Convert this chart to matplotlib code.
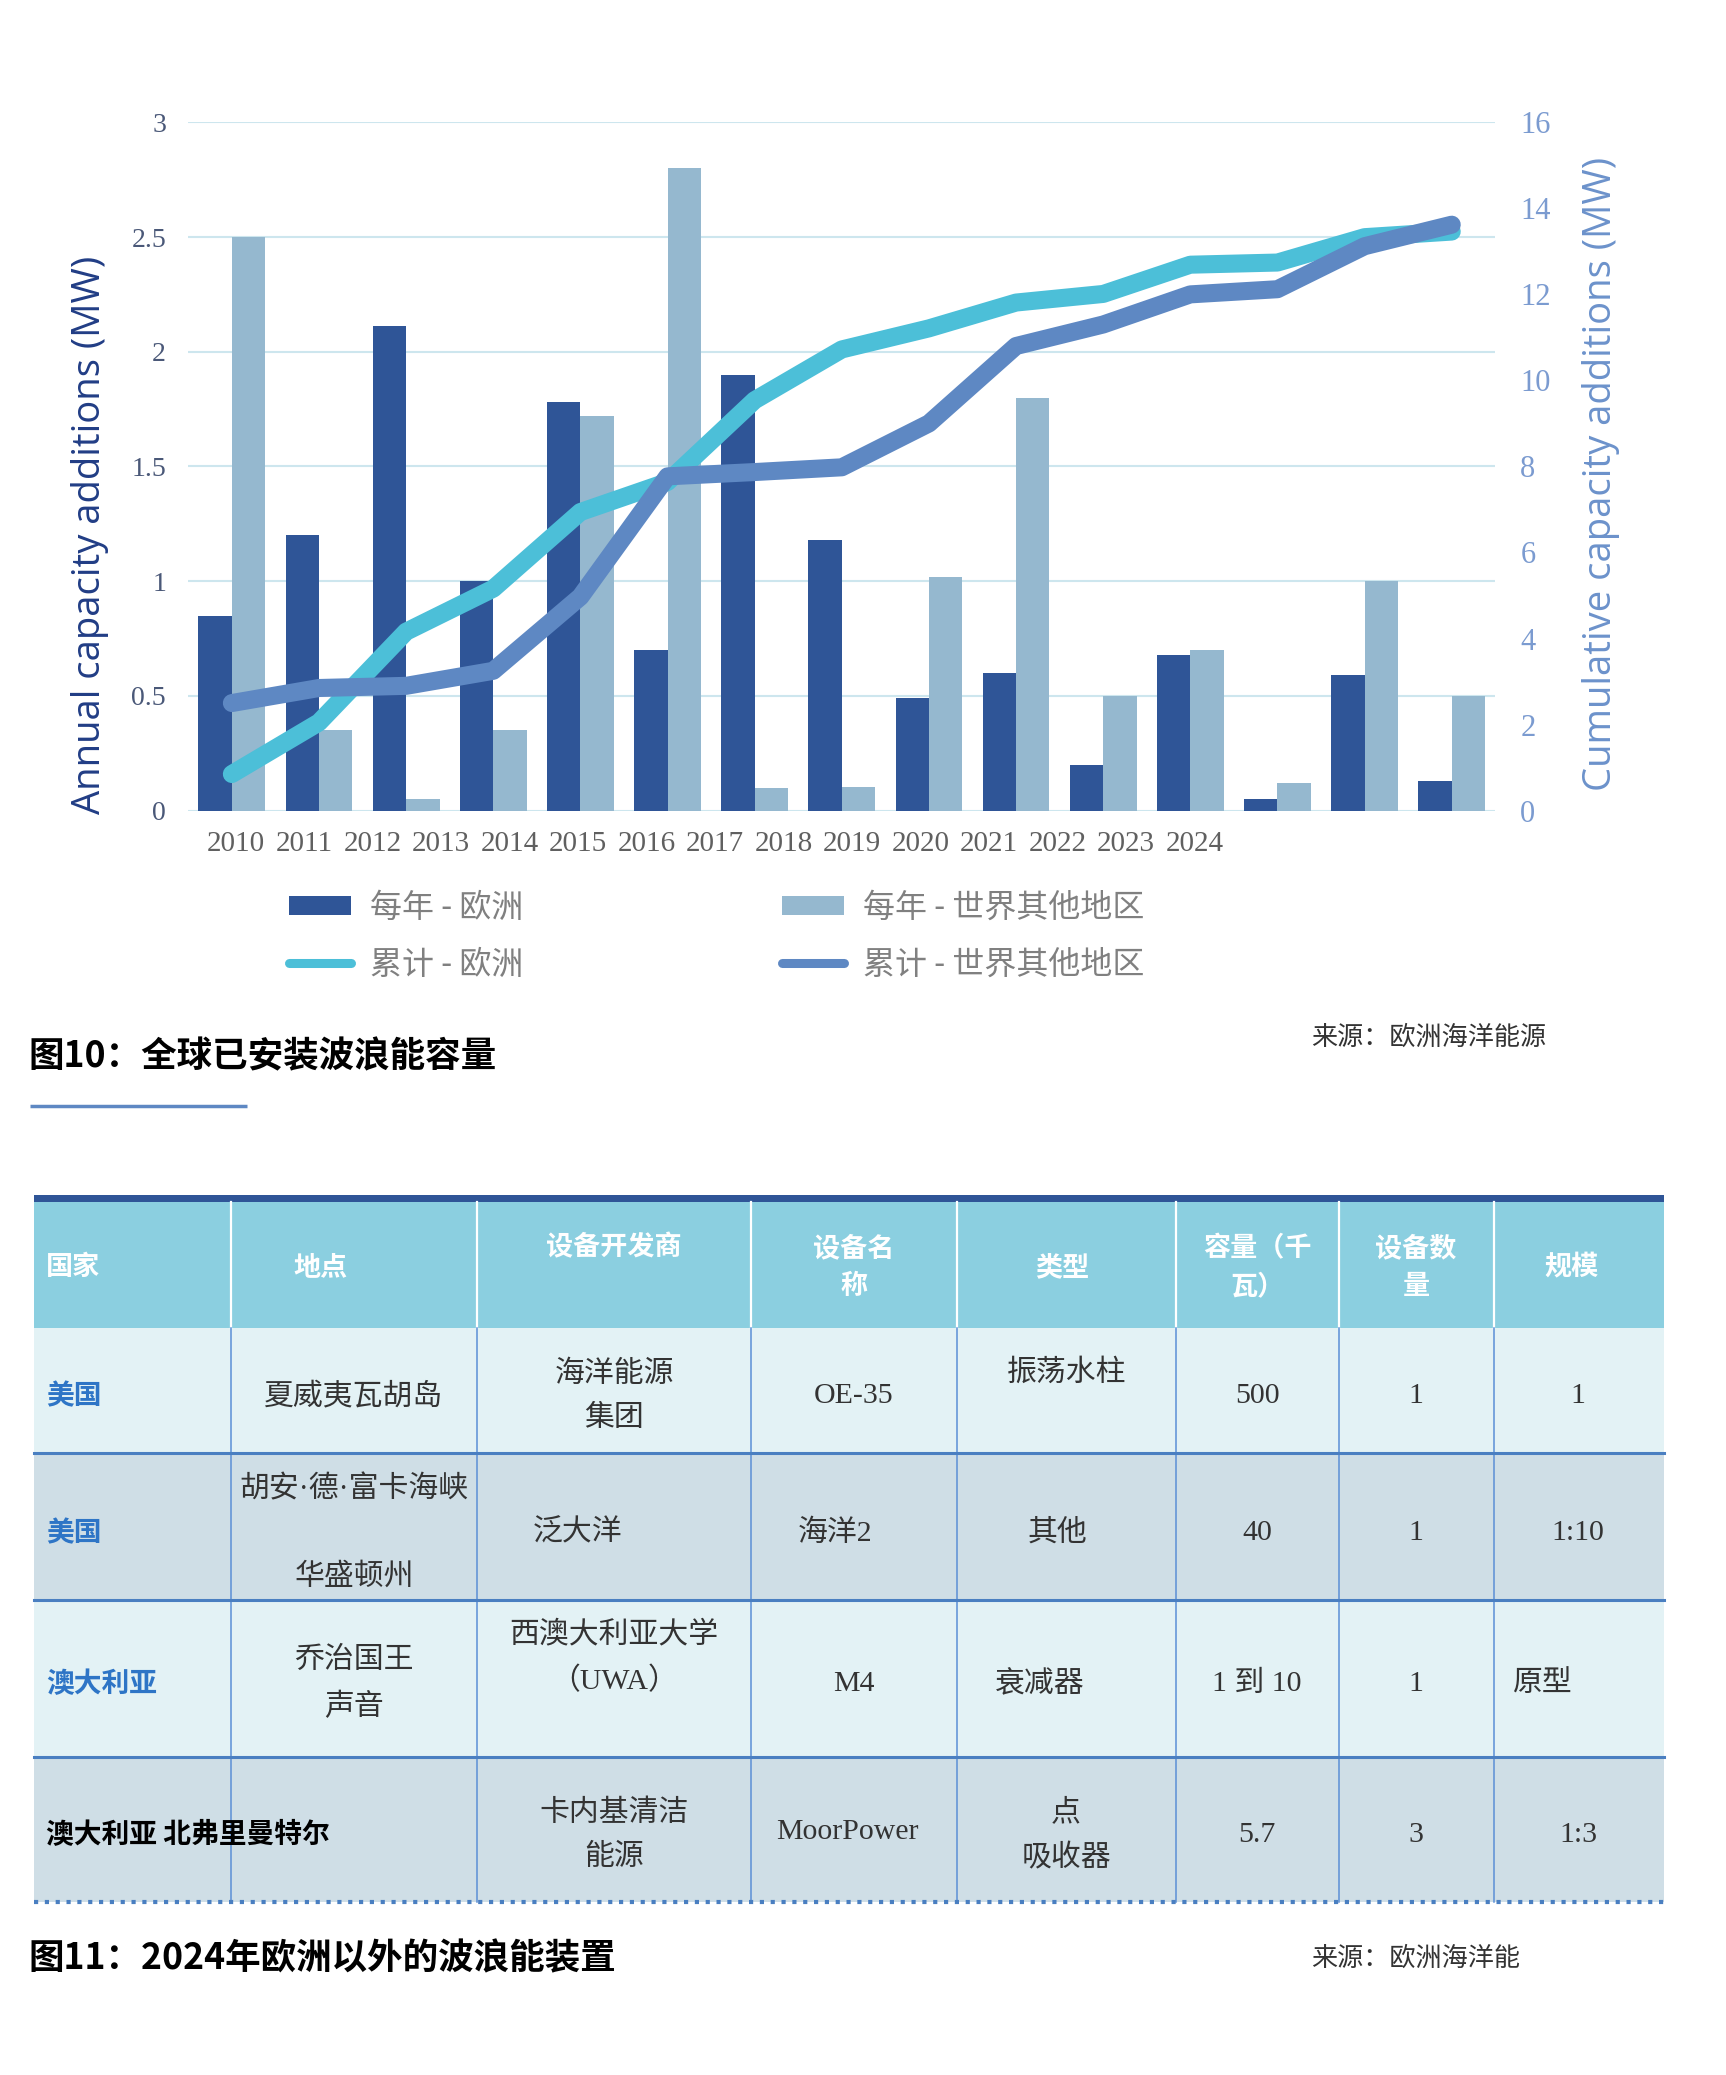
import matplotlib
matplotlib.use("Agg")
import matplotlib.pyplot as plt
import numpy as np
from matplotlib.patches import Rectangle

plt.rcParams['font.family'] = ['Noto Sans CJK SC', 'DejaVu Sans']

# ---- chart data (MW) ----
years = ["2010", "2011", "2012", "2013", "2014", "2015", "2016", "2017",
         "2018", "2019", "2020", "2021", "2022", "2023", "2024"]
europe_annual = [0.85, 1.2, 2.11, 1.0, 1.78, 0.7, 1.9, 1.18, 0.49, 0.6, 0.2, 0.68, 0.05, 0.59, 0.13]
row_annual = [2.5, 0.35, 0.05, 0.35, 1.72, 2.8, 0.1, 0.105, 1.02, 1.8, 0.5, 0.7, 0.12, 1.0, 0.5]
europe_cumulative = [0.85, 2.05, 4.16, 5.16, 6.94, 7.64, 9.54, 10.72, 11.21, 11.81, 12.01, 12.69, 12.74, 13.33, 13.46]
row_cumulative = [2.5, 2.85, 2.9, 3.25, 4.97, 7.77, 7.87, 7.98, 9.0, 10.8, 11.3, 12.0, 12.12, 13.12, 13.62]

left_ticks = [0, 0.5, 1, 1.5, 2, 2.5, 3]
left_tick_labels = ["0", "0.5", "1", "1.5", "2", "2.5", "3"]
right_ticks = [0, 2, 4, 6, 8, 10, 12, 14, 16]

# ---- table data ----
header = ["国家", "地点", "设备开发商", "设备名\n称", "类型", "容量（千\n瓦）", "设备数\n量", "规模"]
countries = ["美国", "美国", "澳大利亚", "澳大利亚 北弗里曼特尔"]
locations = ["夏威夷瓦胡岛", "胡安·德·富卡海峡\n\n华盛顿州", "乔治国王\n声音", ""]
developers = ["海洋能源\n集团", "泛大洋", "西澳大利亚大学\n（UWA）", "卡内基清洁\n能源"]
device_names = ["OE-35", "海洋2", "M4", "MoorPower"]
device_types = ["振荡水柱", "其他", "衰减器", "点\n吸收器"]
capacities_kw = ["500", "40", "1 到 10", "5.7"]
device_counts = ["1", "1", "1", "3"]
scales = ["1", "1:10", "原型", "1:3"]

DARK = "#2F5597"
LIGHT = "#95B8CF"
CYAN = "#4CBFD8"
MID = "#5E88C3"
SERIF = ['Liberation Serif', 'Noto Sans CJK SC']

W, H = 1726, 2075
fig = plt.figure(figsize=(W / 100, H / 100), dpi=100)

# overlay in pixel coordinates for titles, labels and the table
ov = fig.add_axes([0, 0, 1, 1])
ov.set_xlim(0, W)
ov.set_ylim(H, 0)
ov.axis('off')

# ---- chart ----
ax = fig.add_axes([188.3 / W, 1 - 810.6 / H, (1495.3 - 188.3) / W, (810.6 - 122.3) / H])
ax.patch.set_alpha(0)
x = np.arange(len(years))
bw = 0.383
ax.bar(x - bw / 2, europe_annual, bw, color=DARK, label="每年 - 欧洲", zorder=2)
ax.bar(x + bw / 2, row_annual, bw, color=LIGHT, label="每年 - 世界其他地区", zorder=2)
ax.set_xlim(-0.5, 14.5)
ax.set_ylim(0, 3)
ax.set_yticks(left_ticks)
ax.set_yticklabels(left_tick_labels, family=SERIF, fontsize=20, color="#4A5878")
ax.yaxis.grid(True, color="#CDE6EE", lw=1.5, zorder=0)
ax.set_axisbelow(True)
# year labels sit compressed to the left, as in the source
ax.set_xticks(np.linspace(0.04, 11.05, len(years)))
ax.set_xticklabels(years, family=SERIF, fontsize=21, color="#606060")
ax.tick_params(axis='both', length=0)
ax.tick_params(axis='x', pad=15)
ax.tick_params(axis='y', pad=16)
for s in ax.spines.values():
    s.set_visible(False)

ax2 = ax.twinx()
ax2.plot(x, europe_cumulative, color=CYAN, lw=13, solid_capstyle='round',
         solid_joinstyle='round', label="累计 - 欧洲", zorder=3)
ax2.plot(x, row_cumulative, color=MID, lw=13, solid_capstyle='round',
         solid_joinstyle='round', label="累计 - 世界其他地区", zorder=4)
ax2.set_ylim(0, 16)
ax2.set_yticks(right_ticks)
ax2.set_yticklabels([str(t) for t in right_ticks], family=SERIF, fontsize=22, color="#7B9BD0")
ax2.tick_params(axis='y', length=0, pad=18)
for s in ax2.spines.values():
    s.set_visible(False)

ov.text(90, 535, "Annual capacity additions (MW)", rotation=90, ha='center', va='center',
        family='Open Sans', fontsize=27.5, color="#213D85")
ov.text(1601, 474, "Cumulative capacity additions (MW)", rotation=90, ha='center', va='center',
        family='Open Sans', fontsize=27.5, color="#6C92CB")

# legend, two columns
h1, l1 = ax.get_legend_handles_labels()
h2, l2 = ax2.get_legend_handles_labels()
leg_kw = dict(loc='upper left', frameon=False, fontsize=23, borderpad=0, borderaxespad=0,
              handlelength=1.94, handleheight=0.56, handletextpad=0.6, labelspacing=0.78,
              labelcolor="#808080")
legA = fig.legend([h1[0], h2[0]], [l1[0], l2[0]], bbox_to_anchor=(289 / W, 1 - 892 / H), **leg_kw)
legB = fig.legend([h1[1], h2[1]], [l1[1], l2[1]], bbox_to_anchor=(782 / W, 1 - 892 / H), **leg_kw)
for leg in (legA, legB):
    for ln in leg.get_lines():
        ln.set_linewidth(6.5)

# ---- figure 10 caption ----
ov.text(28, 1057, "图10：全球已安装波浪能容量", ha='left', va='center', fontsize=25.6,
        fontweight='bold', color="black")
ov.plot([30, 247], [1106, 1106], color=MID, lw=2.5, solid_capstyle='butt')
ov.text(1311, 1037, "来源：欧洲海洋能源", ha='left', va='center', fontsize=18.8, color="#333333")

# ---- table ----
col_edges = [34, 231, 477, 751, 957, 1176, 1339, 1494, 1664]
row_edges = [1202, 1328, 1453, 1600, 1757, 1902]
tab_left, tab_right = col_edges[0], col_edges[-1]

ov.add_patch(Rectangle((tab_left, 1195), tab_right - tab_left, 7, color=DARK, lw=0))
ov.add_patch(Rectangle((tab_left, row_edges[0]), tab_right - tab_left,
                       row_edges[1] - row_edges[0], color="#8BCFE0", lw=0))
row_bg = ["#E3F2F5", "#CFDEE6", "#E3F2F5", "#CFDEE6"]
for i in range(4):
    ov.add_patch(Rectangle((tab_left, row_edges[i + 1]), tab_right - tab_left,
                           row_edges[i + 2] - row_edges[i + 1], color=row_bg[i], lw=0))
for cx in col_edges[1:-1]:
    ov.plot([cx, cx], [row_edges[0], row_edges[1]], color="white", lw=1.6)
    ov.plot([cx, cx], [row_edges[1], row_edges[-1]], color="#5B8FD6", lw=1.1)
for ry in row_edges[2:-1]:
    ov.plot([tab_left, tab_right], [ry, ry], color="#4A7FC1", lw=2.2)
ov.plot([tab_left, tab_right], [row_edges[-1], row_edges[-1]], color="#4A7FC1", lw=3,
        linestyle=(0, (1, 1.6)))

head_x = [46, 321, 614, 854, 1062, 1257, 1416, 1571]
for j, t in enumerate(header):
    ha = 'left' if j == 0 else 'center'
    y = 1247 if j == 2 else 1267
    ov.text(head_x[j], y, t, ha=ha, va='center', fontsize=19.5, fontweight='bold', color="white",
            linespacing=1.45)

columns = [countries, locations, developers, device_names, device_types,
           capacities_kw, device_counts, scales]
cell_x = [46, 354, 614, 854, 1066, 1257, 1416, 1578]
cell_y = [1396, 1533, 1684, 1835]
overrides = {(0, 4): (1067, 1373, 'center'), (1, 2): (578, 1533, 'center'),
             (1, 3): (835, 1533, 'center'), (1, 4): (1058, 1533, 'center'),
             (2, 2): (614, 1658, 'center'), (2, 4): (1040, 1684, 'center'),
             (2, 7): (1513, 1684, 'left'), (3, 3): (847, 1832, 'center')}
for i in range(4):
    for j, col in enumerate(columns):
        t = col[i]
        if not t:
            continue
        if j == 0:
            ov.text(cell_x[0], cell_y[i], t, ha='left', va='center', fontsize=20,
                    fontweight='bold', color="#2E75C6" if i < 3 else "black")
            continue
        px, py, ha = overrides.get((i, j), (cell_x[j], cell_y[i], 'center'))
        ov.text(px, py, t, ha=ha, va='center', fontsize=21.5, family=SERIF,
                color="#333333", linespacing=1.82)

ov.text(28, 1959, "图11：2024年欧洲以外的波浪能装置", ha='left', va='center', fontsize=25.6,
        fontweight='bold', color="black")
ov.text(1311, 1958, "来源：欧洲海洋能", ha='left', va='center', fontsize=18.8, color="#333333")

fig.savefig("out.png", dpi=100)
